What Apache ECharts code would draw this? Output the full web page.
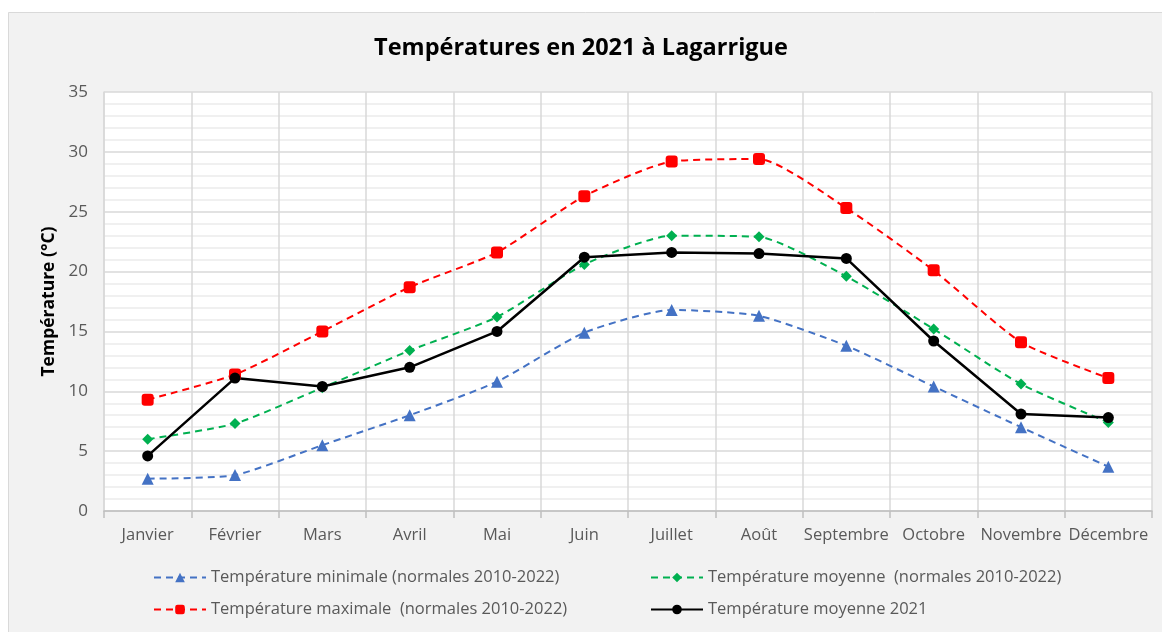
<!DOCTYPE html>
<html>
<head>
<meta charset="utf-8">
<script src="https://cdn.jsdelivr.net/npm/echarts@6/dist/echarts.min.js"></script>
<style>
  html, body { margin: 0; padding: 0; background: #fff; }
  #chart { width: 1162px; height: 632px; }
</style>
</head>
<body>
<div id="chart"></div>
<script>
// données
var mois = ['Janvier', 'Février', 'Mars', 'Avril', 'Mai', 'Juin', 'Juillet', 'Août', 'Septembre', 'Octobre', 'Novembre', 'Décembre']
var tMin = [2.7, 3.0, 5.5, 8.0, 10.8, 14.9, 16.8, 16.3, 13.8, 10.4, 7.0, 3.7]
var tMoy = [6.0, 7.3, 10.3, 13.4, 16.2, 20.6, 23.0, 22.9, 19.6, 15.2, 10.6, 7.4]
var tMax = [9.3, 11.4, 15.0, 18.7, 21.6, 26.3, 29.2, 29.4, 25.3, 20.1, 14.1, 11.1]
var tMoy2021 = [4.6, 11.1, 10.4, 12.0, 15.0, 21.2, 21.6, 21.5, 21.1, 14.2, 8.1, 7.8]
var yTicks = [0, 5, 10, 15, 20, 25, 30, 35]

var nomMin = 'Température minimale (normales 2010-2022)'
var nomMoy = 'Température moyenne  (normales 2010-2022)'
var nomMax = 'Température maximale  (normales 2010-2022)'
var nom2021 = 'Température moyenne 2021'

var police = '"Open Sans", "Noto Sans", sans-serif'
var gris = '#595959'

function legende (nom, left, top) {
  return {
    data: [nom],
    left: left,
    top: top,
    padding: 0,
    itemWidth: 52,
    itemHeight: 12,
    itemGap: 6,
    textStyle: { color: gris, fontSize: 16.5, fontFamily: police }
  }
}

var myChart = echarts.init(document.getElementById('chart'))
myChart.setOption({
  animation: false,
  textStyle: { fontFamily: police },
  graphic: [{
    type: 'rect',
    z: -10,
    shape: { x: 8.5, y: 12.5, width: 1160, height: 630 },
    style: { fill: '#f2f2f2', stroke: '#d9d9d9', lineWidth: 1 }
  }],
  title: {
    text: 'Températures en 2021 à Lagarrigue',
    left: 'center',
    top: 31,
    textStyle: { fontSize: 23.5, fontWeight: 'bold', color: '#000', fontFamily: police }
  },
  legend: [
    legende(nomMin, 153, 569),
    legende(nomMoy, 650, 569),
    legende(nomMax, 153, 601),
    legende(nom2021, 650, 601)
  ],
  grid: {
    left: 104,
    top: 92,
    right: 10,
    bottom: 121,
    show: true,
    backgroundColor: '#fff',
    borderWidth: 0
  },
  xAxis: {
    type: 'category',
    data: mois,
    boundaryGap: true,
    axisLine: { lineStyle: { color: '#bfbfbf', width: 1.5 } },
    axisTick: { show: true, length: 7, lineStyle: { color: '#bfbfbf', width: 1.5 } },
    axisLabel: { color: gris, fontSize: 16.5, margin: 16, interval: 0 },
    splitLine: { show: true, lineStyle: { color: '#d9d9d9', width: 1.5 } }
  },
  yAxis: {
    type: 'value',
    min: yTicks[0],
    max: yTicks[yTicks.length - 1],
    interval: 5,
    name: 'Température (°C)',
    nameLocation: 'middle',
    nameGap: 43,
    nameTextStyle: { color: '#000', fontSize: 17.5, fontWeight: 'bold' },
    axisLine: { show: true, lineStyle: { color: '#d9d9d9', width: 1.5 } },
    axisTick: { show: false },
    axisLabel: { color: gris, fontSize: 17, margin: 16 },
    splitLine: { show: true, lineStyle: { color: '#d9d9d9', width: 1.5 } },
    minorTick: { show: false, splitNumber: 5 },
    minorSplitLine: { show: true, lineStyle: { color: '#ebebeb', width: 1.5 } }
  },
  series: [
    {
      name: nomMin,
      type: 'line',
      data: tMin,
      symbol: 'triangle',
      symbolSize: 12,
      itemStyle: { color: '#4472c4' },
      lineStyle: { color: '#4472c4', width: 2, type: [7, 5] },
      smooth: 0.2
    },
    {
      name: nomMoy,
      type: 'line',
      data: tMoy,
      symbol: 'diamond',
      symbolSize: 11,
      itemStyle: { color: '#00b050' },
      lineStyle: { color: '#00b050', width: 2, type: [7, 5] },
      smooth: 0.2
    },
    {
      name: nomMax,
      type: 'line',
      data: tMax,
      symbol: 'roundRect',
      symbolSize: 12,
      itemStyle: { color: '#ff0000' },
      lineStyle: { color: '#ff0000', width: 2, type: [7, 5] },
      smooth: 0.2
    },
    {
      name: nom2021,
      type: 'line',
      data: tMoy2021,
      symbol: 'circle',
      symbolSize: 11,
      itemStyle: { color: '#000' },
      lineStyle: { color: '#000', width: 2.5 }
    }
  ]
})
</script>
</body>
</html>
